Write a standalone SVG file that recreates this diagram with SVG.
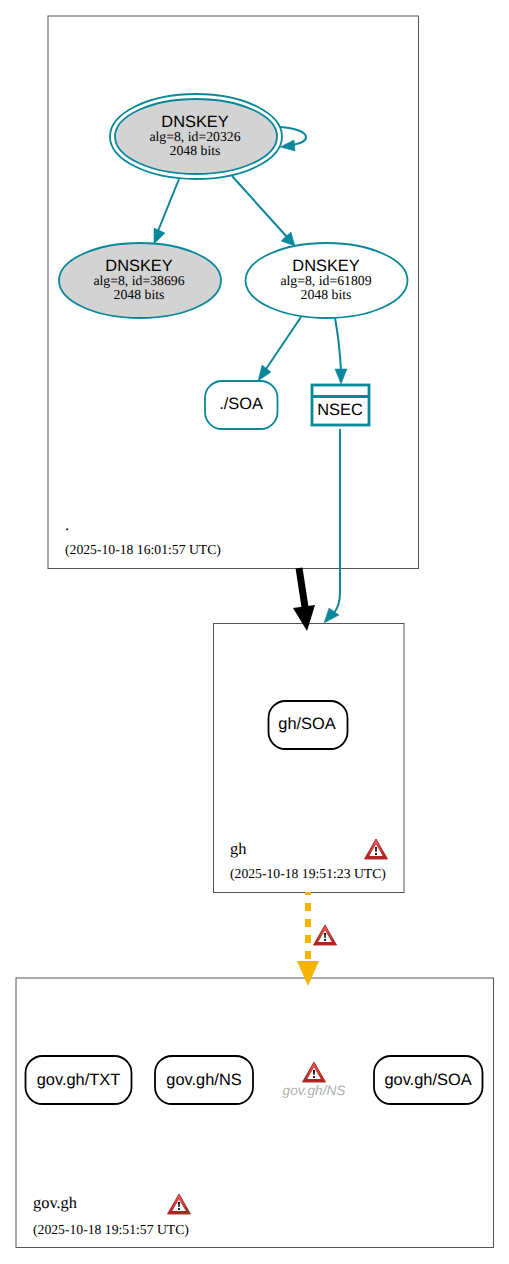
<svg xmlns="http://www.w3.org/2000/svg" width="509" height="1264" viewBox="0 0 509 1264">
<style>
text{text-rendering:geometricPrecision}
.c{fill:#fff;stroke:#555;stroke-width:1}
.k{stroke:#0a879a;stroke-width:1.800;fill:none}
.g{fill:#d3d3d3}
.w{fill:#fff}
.b{fill:#fff;stroke:#000;stroke-width:1.800}
.h{font-family:"Liberation Sans",Arial,sans-serif;font-size:16.400px;text-anchor:middle;fill:#000}
.s{font-family:"Liberation Serif","Times New Roman",serif;font-size:13.750px;text-anchor:middle;fill:#000}
.z{font-family:"Liberation Serif","Times New Roman",serif;font-size:16.400px;fill:#000}
.t{font-family:"Liberation Serif","Times New Roman",serif;font-size:13.700px;fill:#000}
.e{fill:none;stroke:#0a879a;stroke-width:2}
.a{fill:#0a879a;stroke:#0a879a;stroke-width:.5}
</style>
<defs>
<linearGradient id="wg" x1="0" y1="0" x2="0" y2="1"><stop offset="0" stop-color="#e85c5c"/><stop offset="1" stop-color="#a81c1c"/></linearGradient>
<g id="warn">
<path d="M0,-11 L11.500,9 L-11.500,9 Z" fill="url(#wg)" stroke="#b83030" stroke-width="1" stroke-linejoin="round"/>
<path d="M0,-5.500 L6.800,6 L-6.800,6 Z" fill="#fff"/>
<path d="M-1.100,-3 L1.100,-3 L0.600,2 L-0.600,2 Z" fill="#111"/>
<rect x="-0.900" y="3" width="1.800" height="2" fill="#111"/>
</g>
</defs>
<rect width="509" height="1264" fill="#fff"/>
<g id="zone-root"><rect class="c" x="48" y="16" width="370.500" height="552.500"/>
<text class="z" x="65" y="530">.</text><text class="t" x="65" y="554">(2025-10-18 16:01:57 UTC)</text></g>
<g id="zone-gh"><rect class="c" x="213.500" y="623.500" width="190.500" height="269"/>
<text class="z" x="230" y="854">gh</text><text class="t" x="230" y="878">(2025-10-18 19:51:23 UTC)</text>
<use href="#warn" x="376" y="850"/></g>
<g id="zone-govgh"><rect class="c" x="16" y="978" width="477.500" height="269.500"/>
<text class="z" x="33" y="1208">gov.gh</text><text class="t" x="33" y="1234">(2025-10-18 19:51:57 UTC)</text>
<use href="#warn" x="179" y="1205"/></g>
<g id="connectors">
<path class="e" d="M280,127 C295,128 306,132 306,137 C306,141 302,143 293,145"/>
<path class="a" d="M280,147 L294,140 L295,151 Z"/>
<path class="e" d="M179,179 L158,231"/>
<path class="a" d="M154,244 L154,228 L165,233 Z"/>
<path class="e" d="M232,176 L287,237"/>
<path class="a" d="M295,246 L281,241 L291,232 Z"/>
<path class="e" d="M301,317 L266,369"/>
<path class="a" d="M258,381 L262,365 L271,372 Z"/>
<path class="e" d="M335,318 C338,334 340,352 341,371"/>
<path class="a" d="M341,384 L335,369 L347,369 Z"/>
<path class="e" d="M340,429 L340,592 C340,602 338,608 334,613"/>
<path class="a" d="M324,623 L329,608 L339,615 Z"/>
<path d="M299,568 L305,607" fill="none" stroke="#000" stroke-width="7"/>
<path d="M307,631 L293,608 L315,605 Z" fill="#000"/>
<path d="M308,892 L308,961" fill="none" stroke="#f4b400" stroke-width="6" stroke-dasharray="8,8" stroke-dashoffset="5"/>
<path d="M308,986 L297,961 L319,961 Z" fill="#f4b400"/>
<use href="#warn" x="325" y="936"/>
</g>
<g id="node-20326">
<ellipse class="k" cx="196" cy="136.500" rx="86" ry="42.500"/>
<ellipse class="k g" cx="196" cy="136.500" rx="81" ry="37.500"/>
<text class="h" x="195" y="127">DNSKEY</text>
<text class="s" x="195" y="141">alg=8, id=20326</text><text class="s" x="195" y="155">2048 bits</text></g>
<g id="node-38696">
<ellipse class="k g" cx="140" cy="280.500" rx="81" ry="37.500"/>
<text class="h" x="139" y="271">DNSKEY</text>
<text class="s" x="139" y="285">alg=8, id=38696</text><text class="s" x="139" y="299">2048 bits</text></g>
<g id="node-61809">
<ellipse class="k w" cx="326.500" cy="280.500" rx="81" ry="37.500"/>
<text class="h" x="326" y="271">DNSKEY</text>
<text class="s" x="326" y="285">alg=8, id=61809</text><text class="s" x="326" y="299">2048 bits</text></g>
<g id="node-soa-root">
<rect class="w k" x="205" y="381" width="72.500" height="48" rx="17" ry="17"/>
<text class="h" x="241" y="409">./SOA</text></g>
<g id="node-nsec">
<rect class="k w" x="312" y="385" width="57" height="40" style="stroke-width:2.800"/>
<path class="k" d="M312,396.500 L369,396.500" style="stroke-width:2.800"/>
<text class="h" x="340" y="415">NSEC</text></g>
<g id="node-soa-gh">
<rect class="b" x="268.500" y="701" width="79" height="48" rx="17" ry="17"/>
<text class="h" x="307" y="729">gh/SOA</text></g>
<g id="node-txt">
<rect class="b" x="25.500" y="1056" width="106" height="48" rx="17" ry="17"/>
<text class="h" x="78.500" y="1085">gov.gh/TXT</text></g>
<g id="node-ns">
<rect class="b" x="155" y="1056" width="98" height="48" rx="17" ry="17"/>
<text class="h" x="204" y="1085">gov.gh/NS</text></g>
<g id="node-ns-missing">
<use href="#warn" x="314" y="1073"/>
<text x="314" y="1095" style="font-family:'Liberation Sans',Arial,sans-serif;font-size:13.700px;font-style:italic;text-anchor:middle;fill:#b0b0b0">gov.gh/NS</text></g>
<g id="node-soa-gov">
<rect class="b" x="374" y="1056" width="108.500" height="48" rx="17" ry="17"/>
<text class="h" x="428" y="1085">gov.gh/SOA</text></g>
</svg>
